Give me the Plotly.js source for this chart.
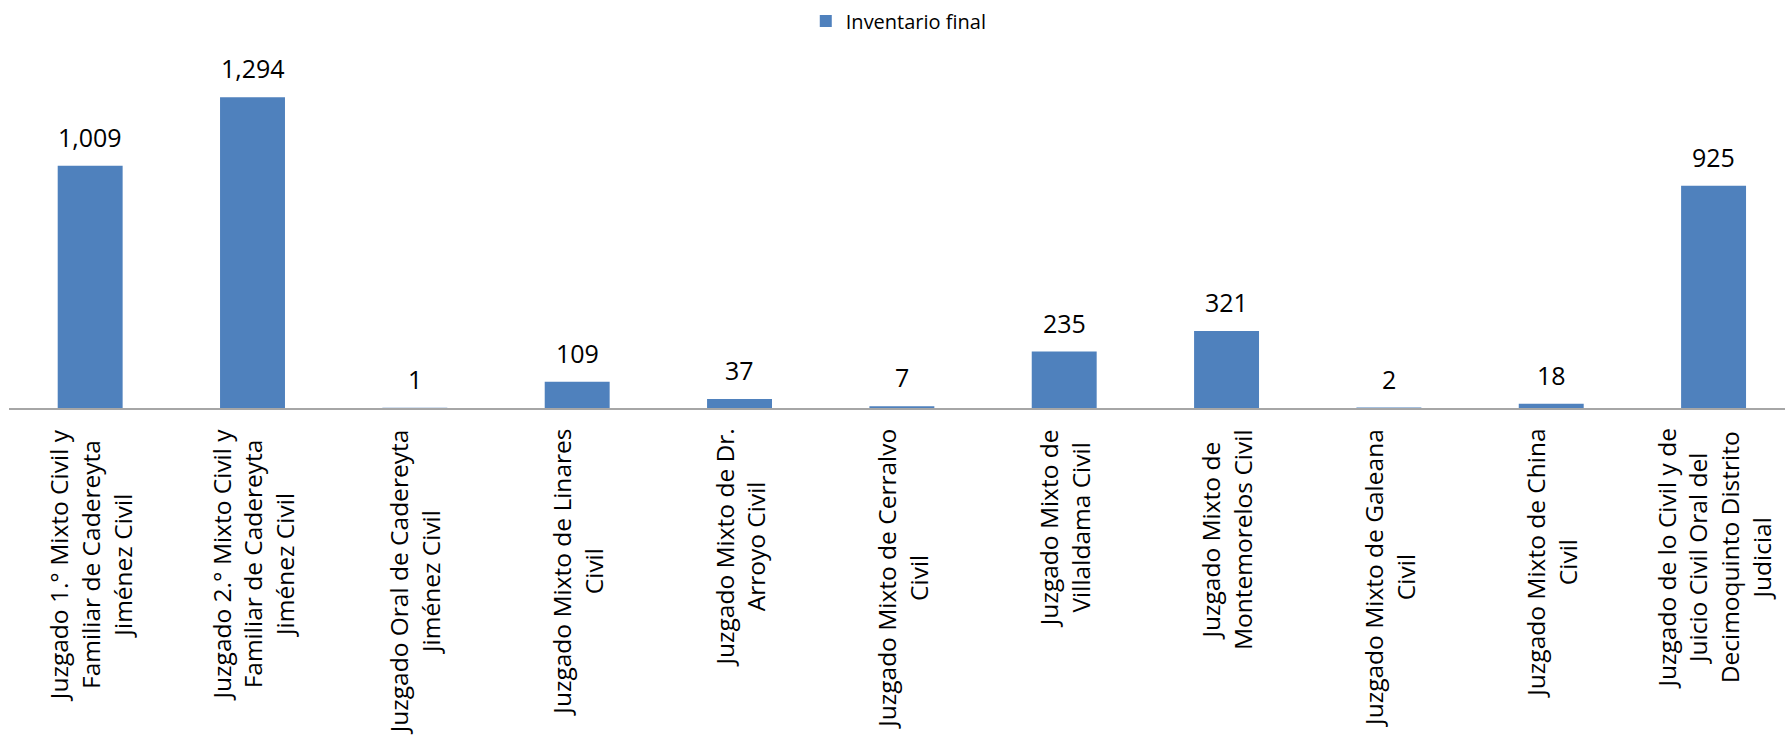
<!DOCTYPE html>
<html>
<head>
<meta charset="utf-8">
<script src="https://cdn.plot.ly/plotly-3.0.1.min.js"></script>
<style>
  html, body { margin: 0; padding: 0; background: #ffffff; }
  #chart { width: 1785px; height: 746px; }
</style>
</head>
<body>
<div id="chart"></div>
<script>
// ---- Data ----
const categories = [
  "Juzgado 1.° Mixto Civil y<br>Familiar de Cadereyta<br>Jiménez Civil",
  "Juzgado 2.° Mixto Civil y<br>Familiar de Cadereyta<br>Jiménez Civil",
  "Juzgado Oral de Cadereyta<br>Jiménez Civil",
  "Juzgado Mixto de Linares<br>Civil",
  "Juzgado Mixto de Dr.<br>Arroyo Civil",
  "Juzgado Mixto de Cerralvo<br>Civil",
  "Juzgado Mixto de<br>Villaldama Civil",
  "Juzgado Mixto de<br>Montemorelos Civil",
  "Juzgado Mixto de Galeana<br>Civil",
  "Juzgado Mixto de China<br>Civil",
  "Juzgado de lo Civil y de<br>Juicio Civil Oral del<br>Decimoquinto Distrito<br>Judicial"
];
const seriesName = "Inventario final";
const inventarioFinal = [1009, 1294, 1, 109, 37, 7, 235, 321, 2, 18, 925];

// ---- Styles ----
const FONT = "Open Sans, Noto Sans, sans-serif";
const BAR_COLOR = "#4f81bd";

const trace = {
  type: "bar",
  name: seriesName,
  x: categories,
  y: inventarioFinal,
  marker: { color: BAR_COLOR },
  showlegend: true,
  hoverinfo: "x+y"
};

const valueLabels = categories.map((c, i) => ({
  x: c, y: inventarioFinal[i], xref: "x", yref: "y",
  text: inventarioFinal[i].toLocaleString("en-US"),
  showarrow: false, yanchor: "bottom", xanchor: "center",
  yshift: 10,
  font: { family: FONT, size: 25, color: "#000000" }
}));

const tickLabels = categories.map((c) => ({
  x: c, y: 0, xref: "x", yref: "y",
  text: c,
  showarrow: false, textangle: -90,
  yanchor: "top", xanchor: "center", align: "center",
  yshift: -19,
  font: { family: FONT, size: 24.5, color: "#000000" }
}));

const layout = {
  width: 1785,
  height: 746,
  margin: { l: 9, r: 0, t: 40, b: 338, pad: 0 },
  paper_bgcolor: "#ffffff",
  plot_bgcolor: "#ffffff",
  font: { family: FONT, color: "#000000" },
  bargap: 0.6,
  showlegend: true,
  legend: {
    orientation: "h",
    x: 0.501, xanchor: "center",
    yref: "container", y: 0.998, yanchor: "top",
    font: { family: FONT, size: 20, color: "#000000" },
    itemwidth: 30
  },
  xaxis: {
    type: "category",
    range: [-0.5, 10.44],
    showticklabels: false,
    ticks: "",
    showline: true,
    linecolor: "#a6a6a6",
    linewidth: 2,
    showgrid: false,
    zeroline: false,
    fixedrange: true
  },
  yaxis: {
    range: [0, 1530],
    visible: false,
    showgrid: false,
    zeroline: false,
    fixedrange: true
  },
  annotations: valueLabels.concat(tickLabels)
};

Plotly.newPlot("chart", [trace], layout, { displayModeBar: false, staticPlot: true });
</script>
</body>
</html>
